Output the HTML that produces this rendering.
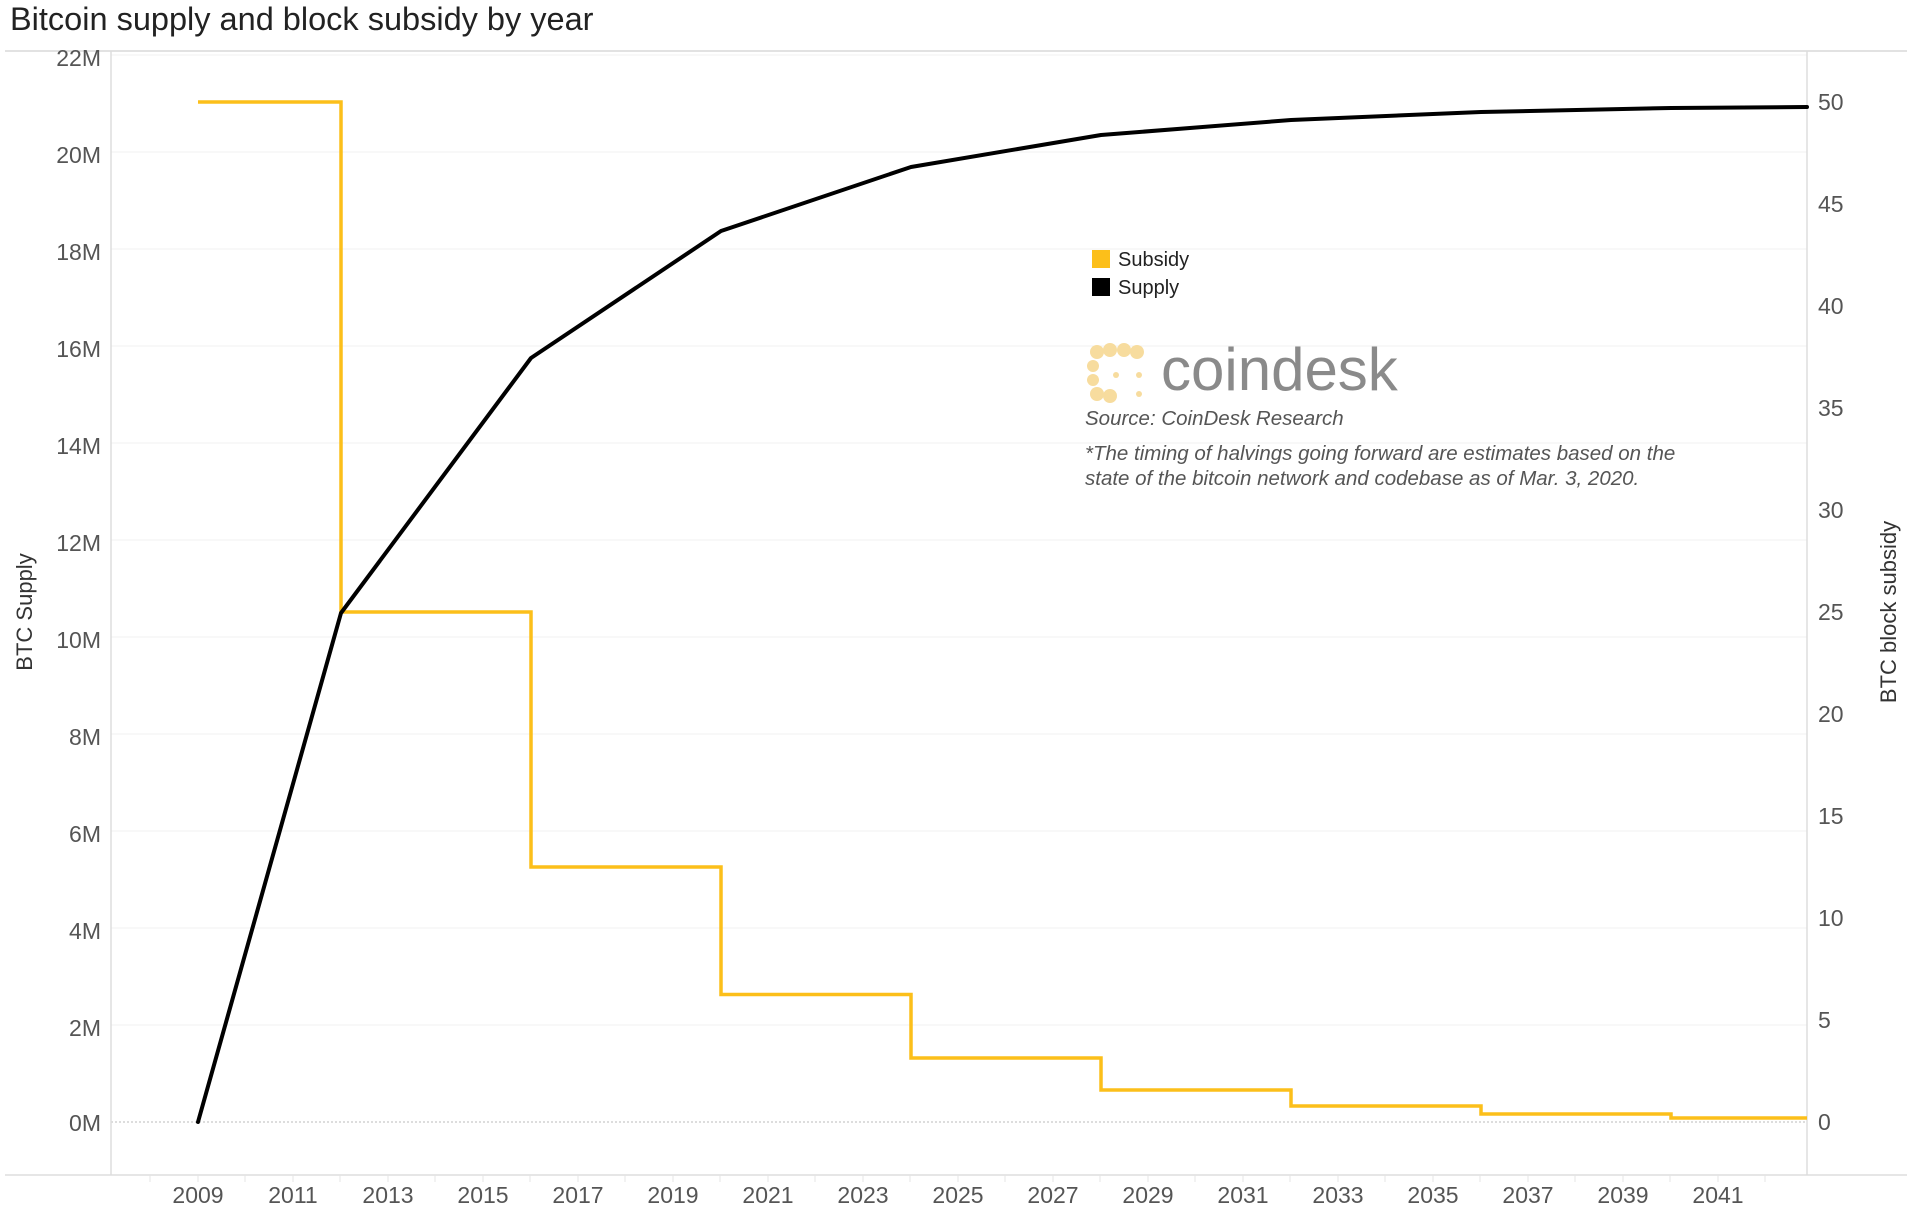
<!DOCTYPE html>
<html><head><meta charset="utf-8"><style>
html,body{margin:0;padding:0;background:#fff;}
svg{display:block;font-family:"Liberation Sans",sans-serif;}
</style></head><body>
<svg width="1907" height="1228" viewBox="0 0 1907 1228" xmlns="http://www.w3.org/2000/svg">
<text x="10" y="30" font-size="32.5" fill="#222">Bitcoin supply and block subsidy by year</text>
<line x1="5" y1="51" x2="1907" y2="51" stroke="#d8d8d8" stroke-width="1.5"/>
<g stroke="#f0f0f0" stroke-width="1">
<line x1="111" y1="55" x2="1807" y2="55"/>
<line x1="111" y1="152" x2="1807" y2="152"/>
<line x1="111" y1="249" x2="1807" y2="249"/>
<line x1="111" y1="346" x2="1807" y2="346"/>
<line x1="111" y1="443" x2="1807" y2="443"/>
<line x1="111" y1="540" x2="1807" y2="540"/>
<line x1="111" y1="637" x2="1807" y2="637"/>
<line x1="111" y1="734" x2="1807" y2="734"/>
<line x1="111" y1="831" x2="1807" y2="831"/>
<line x1="111" y1="928" x2="1807" y2="928"/>
<line x1="111" y1="1025" x2="1807" y2="1025"/>
</g>
<line x1="111" y1="1122" x2="1807" y2="1122" stroke="#bbb" stroke-width="1" stroke-dasharray="2,2"/>
<line x1="111" y1="51" x2="111" y2="1175" stroke="#ddd" stroke-width="1.5"/>
<line x1="1807" y1="51" x2="1807" y2="1175" stroke="#ddd" stroke-width="1.5"/>
<line x1="5" y1="1175" x2="1907" y2="1175" stroke="#ddd" stroke-width="1.5"/>
<g stroke="#e4e4e4" stroke-width="1">
<line x1="150" y1="1175" x2="150" y2="1182"/><line x1="198" y1="1175" x2="198" y2="1182"/>
<line x1="245" y1="1175" x2="245" y2="1182"/><line x1="293" y1="1175" x2="293" y2="1182"/>
<line x1="340" y1="1175" x2="340" y2="1182"/><line x1="388" y1="1175" x2="388" y2="1182"/>
<line x1="435" y1="1175" x2="435" y2="1182"/><line x1="483" y1="1175" x2="483" y2="1182"/>
<line x1="530" y1="1175" x2="530" y2="1182"/><line x1="578" y1="1175" x2="578" y2="1182"/>
<line x1="625" y1="1175" x2="625" y2="1182"/><line x1="673" y1="1175" x2="673" y2="1182"/>
<line x1="720" y1="1175" x2="720" y2="1182"/><line x1="768" y1="1175" x2="768" y2="1182"/>
<line x1="815" y1="1175" x2="815" y2="1182"/><line x1="863" y1="1175" x2="863" y2="1182"/>
<line x1="910" y1="1175" x2="910" y2="1182"/><line x1="958" y1="1175" x2="958" y2="1182"/>
<line x1="1005" y1="1175" x2="1005" y2="1182"/><line x1="1053" y1="1175" x2="1053" y2="1182"/>
<line x1="1100" y1="1175" x2="1100" y2="1182"/><line x1="1148" y1="1175" x2="1148" y2="1182"/>
<line x1="1195" y1="1175" x2="1195" y2="1182"/><line x1="1243" y1="1175" x2="1243" y2="1182"/>
<line x1="1290" y1="1175" x2="1290" y2="1182"/><line x1="1338" y1="1175" x2="1338" y2="1182"/>
<line x1="1385" y1="1175" x2="1385" y2="1182"/><line x1="1433" y1="1175" x2="1433" y2="1182"/>
<line x1="1480" y1="1175" x2="1480" y2="1182"/><line x1="1528" y1="1175" x2="1528" y2="1182"/>
<line x1="1575" y1="1175" x2="1575" y2="1182"/><line x1="1623" y1="1175" x2="1623" y2="1182"/>
<line x1="1670" y1="1175" x2="1670" y2="1182"/><line x1="1718" y1="1175" x2="1718" y2="1182"/>
<line x1="1765" y1="1175" x2="1765" y2="1182"/>
</g>
<g font-size="23" fill="#555" text-anchor="middle">
<text x="198" y="1203">2009</text><text x="293" y="1203">2011</text><text x="388" y="1203">2013</text>
<text x="483" y="1203">2015</text><text x="578" y="1203">2017</text><text x="673" y="1203">2019</text>
<text x="768" y="1203">2021</text><text x="863" y="1203">2023</text><text x="958" y="1203">2025</text>
<text x="1053" y="1203">2027</text><text x="1148" y="1203">2029</text><text x="1243" y="1203">2031</text>
<text x="1338" y="1203">2033</text><text x="1433" y="1203">2035</text><text x="1528" y="1203">2037</text>
<text x="1623" y="1203">2039</text><text x="1718" y="1203">2041</text>
</g>
<g font-size="23" fill="#555" text-anchor="end">
<text x="101" y="66">22M</text><text x="101" y="163">20M</text><text x="101" y="260">18M</text>
<text x="101" y="357">16M</text><text x="101" y="454">14M</text><text x="101" y="551">12M</text>
<text x="101" y="648">10M</text><text x="101" y="745">8M</text><text x="101" y="842">6M</text>
<text x="101" y="939">4M</text><text x="101" y="1036">2M</text><text x="101" y="1131">0M</text>
</g>
<g font-size="23" fill="#555">
<text x="1818" y="110">50</text><text x="1818" y="212">45</text><text x="1818" y="314">40</text>
<text x="1818" y="416">35</text><text x="1818" y="518">30</text><text x="1818" y="620">25</text>
<text x="1818" y="722">20</text><text x="1818" y="824">15</text><text x="1818" y="926">10</text>
<text x="1818" y="1028">5</text><text x="1818" y="1130">0</text>
</g>
<text transform="translate(32,612) rotate(-90)" font-size="22" fill="#333" text-anchor="middle">BTC Supply</text>
<text transform="translate(1896,612) rotate(-90)" font-size="22" fill="#333" text-anchor="middle">BTC block subsidy</text>
<polyline fill="none" stroke="#FCBF1A" stroke-width="3.5" stroke-linejoin="miter"
points="198,102 341,102 341,612 531,612 531,867 721,867 721,994.5 911,994.5 911,1058 1101,1058 1101,1090 1291,1090 1291,1106 1481,1106 1481,1114 1671,1114 1671,1118 1807,1118"/>
<polyline fill="none" stroke="#000" stroke-width="4" stroke-linecap="round" stroke-linejoin="round"
points="198,1122 341,613 531,358 721,231 911,167 1101,135 1291,120 1481,112 1671,108 1807,107"/>
<rect x="1092" y="250" width="18" height="18" fill="#FCBF1A"/>
<text x="1118" y="266" font-size="20" fill="#222">Subsidy</text>
<rect x="1092" y="278" width="18" height="18" fill="#000"/>
<text x="1118" y="294" font-size="20" fill="#222">Supply</text>
<g fill="#F7DC9E">
<circle cx="1097" cy="352" r="7"/><circle cx="1110" cy="350" r="7"/><circle cx="1124" cy="350" r="7"/><circle cx="1137" cy="352" r="7"/>
<circle cx="1093" cy="366" r="6"/><circle cx="1093" cy="380" r="6"/>
<circle cx="1097" cy="394" r="7"/><circle cx="1110" cy="396" r="7"/>
<circle cx="1116" cy="375" r="3"/><circle cx="1139" cy="375" r="3"/><circle cx="1139" cy="394" r="3"/>
</g>
<text x="1161" y="390" font-size="60" fill="#8a8a8a">coindesk</text>
<g font-size="20.5" fill="#555" font-style="italic">
<text x="1085" y="425">Source: CoinDesk Research</text>
<text x="1085" y="460">*The timing of halvings going forward are estimates based on the</text>
<text x="1085" y="485">state of the bitcoin network and codebase as of Mar. 3, 2020.</text>
</g>
</svg>
</body></html>
